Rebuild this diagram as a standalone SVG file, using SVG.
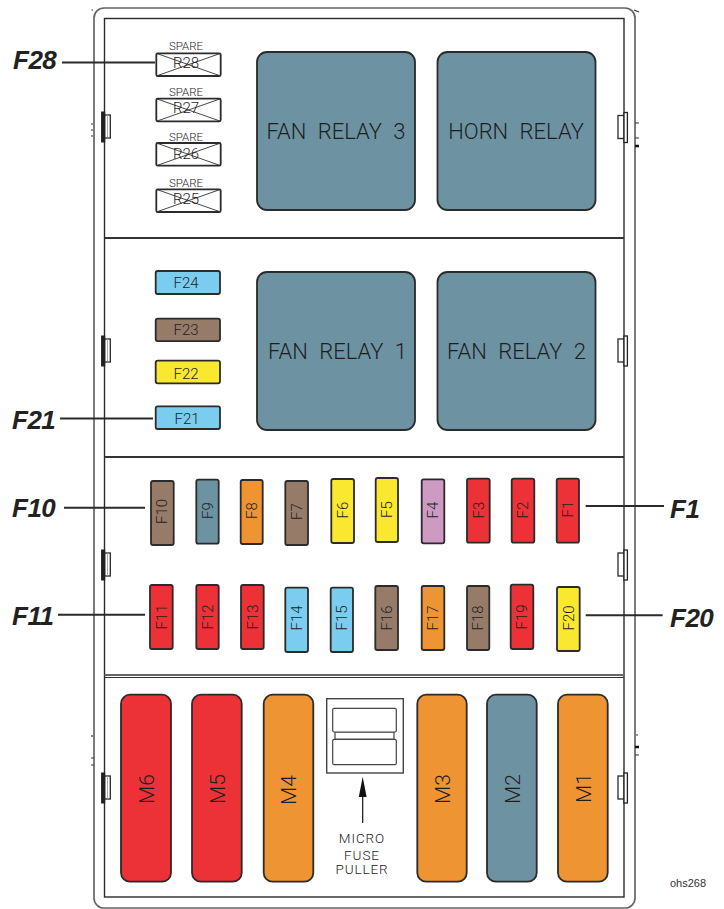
<svg xmlns="http://www.w3.org/2000/svg" width="724" height="909" viewBox="0 0 724 909">
<style>
text{font-family:Roboto,"Liberation Sans",Arial,sans-serif;font-weight:300;fill:#1e1e1e;text-anchor:middle}
.frame{fill:none;stroke:#666;stroke-width:1.7}
.inner{fill:none;stroke:#2a2a2a;stroke-width:1.4}
.div{stroke:#333;stroke-width:1.8}
.clip{fill:#fff;stroke:#2a2a2a;stroke-width:1.3}
.tick{stroke:#333;fill:none}
.f{stroke:#2b2b2b;stroke-width:1.8}
.t{fill:#6d93a3}.r{fill:#ed3237}.o{fill:#ef9433}.b{fill:#967b69}.y{fill:#f9e82f}.l{fill:#7bcdef}.p{fill:#cd9ac3}
.fs{font-size:15px}
.m{font-size:21px}
.rel{font-size:22px;word-spacing:6px}
.sp{font-size:11.5px}
.x{fill:#fff;stroke:#2b2b2b;stroke-width:1.8}
.xl{stroke:#333;stroke-width:.9;fill:none}
.call{font-family:"Liberation Sans",Arial,sans-serif;font-size:26px;font-weight:700;font-style:italic;letter-spacing:-.5px;text-anchor:start;fill:#222}
.lead{stroke:#2a2a2a;stroke-width:2;fill:none}
.pul{fill:#fff;stroke:#444;stroke-width:1.2}
.pt{font-size:13.5px;letter-spacing:.9px;fill:#222}
</style>
<defs>
<g id="clipL"><rect class="clip" x="104.7" y="3" width="5.6" height="23"/><path d="M107.5 3V26" stroke="#999" stroke-width=".8"/><rect x="101.6" width="3.1" height="30" fill="#222" stroke="#222" stroke-width="1"/></g>
<g id="clipR"><rect class="clip" x="618" y="3" width="6" height="23"/><rect x="624" width="3.4" height="30" fill="#fff" stroke="#222" stroke-width="1.3"/></g>
</defs>
<g id="enclosure">
<rect class="frame" x="94" y="8" width="541" height="900" rx="10"/>
<rect class="inner" x="104.5" y="18.5" width="519.5" height="878.5"/>
<path class="div" d="M104.5 238H624M104.5 457H624"/>
<path d="M104.5 675H624" stroke="#666" stroke-width="2"/>
<path d="M104.5 677.5H624" stroke="#333" stroke-width="1"/>
<use href="#clipL" y="112"/><use href="#clipL" y="336"/><use href="#clipL" y="550"/><use href="#clipL" y="773"/>
<use href="#clipR" y="112.5"/><use href="#clipR" y="336"/><use href="#clipR" y="550"/><use href="#clipR" y="773"/>
<path class="tick" stroke-width="1.2" d="M91.5 10L93 10M91 124H93M91 130H93M91 136H93M92 735V737M91 758H94M91 765H94M634 10L639 12M635 123H639M635 138H639M635 755H639M636 735H638"/>
<path stroke="#111" stroke-width="2.4" d="M635 146H639M635 747H639"/>
</g>
<g id="connectors">
<path class="lead" d="M62 62.5H155M60 418.5H153M64 507.7H145M58 614.7H145M585.7 506H664M585.7 615.3H662.6"/>
<path d="M362.7 823V797" stroke="#111" stroke-width="1.2" fill="none"/>
<path d="M362.7 776.7L366.6 797H358.8Z" fill="#111"/>
</g>
<g id="spare-r28"><text class="sp" x="186" y="50">SPARE</text><rect class="x" x="156.3" y="53.3" width="64.4" height="22.7" rx="1.5"/><path class="xl" d="M156.3 53.3L220.7 76M156.3 76L220.7 53.3"/><text class="fs" x="186" y="68">R28</text></g>
<g id="spare-r27"><text class="sp" x="186" y="95.7">SPARE</text><rect class="x" x="156.3" y="98.7" width="64.4" height="22.6" rx="1.5"/><path class="xl" d="M156.3 98.7L220.7 121.3M156.3 121.3L220.7 98.7"/><text class="fs" x="186" y="112.5">R27</text></g>
<g id="spare-r26"><text class="sp" x="186" y="141">SPARE</text><rect class="x" x="156.3" y="143" width="64.4" height="22.7" rx="1.5"/><path class="xl" d="M156.3 143L220.7 165.7M156.3 165.7L220.7 143"/><text class="fs" x="186" y="158.7">R26</text></g>
<g id="spare-r25"><text class="sp" x="186" y="186.7">SPARE</text><rect class="x" x="156.3" y="189.3" width="64.4" height="22.7" rx="1.5"/><path class="xl" d="M156.3 189.3L220.7 212M156.3 212L220.7 189.3"/><text class="fs" x="186" y="204">R25</text></g>
<g id="relay-fan3"><rect class="f t" x="257" y="52" width="158" height="158" rx="10"/><text class="rel" x="336" y="139">FAN RELAY 3</text></g>
<g id="relay-horn"><rect class="f t" x="437.5" y="52" width="158" height="158" rx="10"/><text class="rel" x="516" y="139">HORN RELAY</text></g>
<g id="relay-fan1"><rect class="f t" x="257" y="272" width="158" height="158" rx="10"/><text class="rel" x="337.5" y="359">FAN RELAY 1</text></g>
<g id="relay-fan2"><rect class="f t" x="437.5" y="272" width="158" height="158" rx="10"/><text class="rel" x="516.5" y="359">FAN RELAY 2</text></g>
<g id="f24"><rect class="f l" x="155.7" y="271" width="64.3" height="23" rx="2"/><text class="fs" x="186" y="288">F24</text></g>
<g id="f23"><rect class="f b" x="155.7" y="318.7" width="64.3" height="22.4" rx="2"/><text class="fs" x="186" y="334.5">F23</text></g>
<g id="f22"><rect class="f y" x="155.7" y="360.7" width="64.3" height="22.6" rx="2"/><text class="fs" x="186" y="379">F22</text></g>
<g id="f21"><rect class="f l" x="155.7" y="406.3" width="64.3" height="22.7" rx="2"/><text class="fs" x="187" y="424.3">F21</text></g>
<g id="f10"><rect class="f b" x="151" y="481" width="22.7" height="64" rx="2"/><text class="fs" transform="translate(167.3 511.5) rotate(-90)">F10</text></g>
<g id="f9"><rect class="f t" x="196.3" y="479.7" width="22.4" height="64" rx="2"/><text class="fs" transform="translate(212.7 510.5) rotate(-90)">F9</text></g>
<g id="f8"><rect class="f o" x="240.7" y="480" width="22" height="64" rx="2"/><text class="fs" transform="translate(257 510.5) rotate(-90)">F8</text></g>
<g id="f7"><rect class="f b" x="285.3" y="481" width="22.7" height="64" rx="2"/><text class="fs" transform="translate(302 511.5) rotate(-90)">F7</text></g>
<g id="f6"><rect class="f y" x="331.3" y="479" width="22.7" height="64" rx="2"/><text class="fs" transform="translate(347.5 510) rotate(-90)">F6</text></g>
<g id="f5"><rect class="f y" x="375.7" y="478" width="22.3" height="64" rx="2"/><text class="fs" transform="translate(392 509.5) rotate(-90)">F5</text></g>
<g id="f4"><rect class="f p" x="421.7" y="479.3" width="22.6" height="64" rx="2"/><text class="fs" transform="translate(438 510) rotate(-90)">F4</text></g>
<g id="f3"><rect class="f r" x="467" y="478.7" width="22.7" height="64" rx="2"/><text class="fs" transform="translate(483.5 510) rotate(-90)">F3</text></g>
<g id="f2"><rect class="f r" x="511.7" y="478.7" width="22.6" height="64" rx="2"/><text class="fs" transform="translate(528 510) rotate(-90)">F2</text></g>
<g id="f1"><rect class="f r" x="556.7" y="478.7" width="22.3" height="64" rx="2"/><text class="fs" transform="translate(572.5 509) rotate(-90)">F1</text></g>
<g id="f11"><rect class="f r" x="150" y="585" width="22.7" height="64" rx="2"/><text class="fs" transform="translate(166.5 617) rotate(-90)">F11</text></g>
<g id="f12"><rect class="f r" x="196.3" y="585" width="22.4" height="64" rx="2"/><text class="fs" transform="translate(212.7 617) rotate(-90)">F12</text></g>
<g id="f13"><rect class="f r" x="241" y="585" width="22.7" height="64" rx="2"/><text class="fs" transform="translate(257.5 617) rotate(-90)">F13</text></g>
<g id="f14"><rect class="f l" x="285.3" y="587.7" width="22.7" height="64.3" rx="2"/><text class="fs" transform="translate(302 618) rotate(-90)">F14</text></g>
<g id="f15"><rect class="f l" x="330.7" y="587.7" width="22.3" height="64.3" rx="2"/><text class="fs" transform="translate(347 618) rotate(-90)">F15</text></g>
<g id="f16"><rect class="f b" x="375.3" y="586" width="22.7" height="64" rx="2"/><text class="fs" transform="translate(392 618) rotate(-90)">F16</text></g>
<g id="f17"><rect class="f o" x="421.7" y="586" width="22.6" height="64" rx="2"/><text class="fs" transform="translate(438 618) rotate(-90)">F17</text></g>
<g id="f18"><rect class="f b" x="467" y="586" width="22.3" height="64" rx="2"/><text class="fs" transform="translate(483 618) rotate(-90)">F18</text></g>
<g id="f19"><rect class="f r" x="510.7" y="584.7" width="22.6" height="64.3" rx="2"/><text class="fs" transform="translate(526.7 617) rotate(-90)">F19</text></g>
<g id="f20"><rect class="f y" x="557" y="587" width="22.7" height="64" rx="2"/><text class="fs" transform="translate(573.5 618) rotate(-90)">F20</text></g>
<g id="m6"><rect class="f r" x="121" y="694.7" width="50" height="187" rx="9"/><text class="m" transform="translate(154 789) rotate(-90)">M6</text></g>
<g id="m5"><rect class="f r" x="192" y="694.7" width="49.7" height="187" rx="9"/><text class="m" transform="translate(225 789) rotate(-90)">M5</text></g>
<g id="m4"><rect class="f o" x="263.7" y="694.7" width="49.6" height="187" rx="9"/><text class="m" transform="translate(296 790) rotate(-90)">M4</text></g>
<g id="m3"><rect class="f o" x="417.3" y="694.7" width="49.4" height="187" rx="9"/><text class="m" transform="translate(449.5 789) rotate(-90)">M3</text></g>
<g id="m2"><rect class="f t" x="487" y="694.7" width="49.7" height="187" rx="9"/><text class="m" transform="translate(520 789) rotate(-90)">M2</text></g>
<g id="m1"><rect class="f o" x="558" y="694.7" width="49.7" height="187" rx="9"/><text class="m" transform="translate(590.5 788) rotate(-90)">M1</text></g>
<g id="fuse-puller">
<rect x="326.7" y="698.7" width="76.6" height="74.3" fill="#fff" stroke="#444" stroke-width="1.4"/>
<rect class="pul" x="335" y="732" width="59" height="7.3"/>
<rect class="pul" x="332.7" y="708.3" width="63.6" height="23.7" rx="1.5"/>
<rect class="pul" x="332.7" y="739.3" width="63.6" height="25.4" rx="1.5"/>
<text class="pt" x="362" y="843">MICRO</text>
<text class="pt" x="362" y="859.5">FUSE</text>
<text class="pt" x="362" y="874">PULLER</text>
</g>
<g id="callouts">
<text class="call" x="13" y="69">F28</text>
<text class="call" x="12" y="429">F21</text>
<text class="call" x="12" y="517">F10</text>
<text class="call" x="12" y="625">F11</text>
<text class="call" x="670" y="518">F1</text>
<text class="call" x="670" y="627">F20</text>
</g>
<text x="688" y="887" font-size="11" style="font-family:'Liberation Sans',Arial,sans-serif;font-weight:400;fill:#333">ohs268</text>
</svg>
